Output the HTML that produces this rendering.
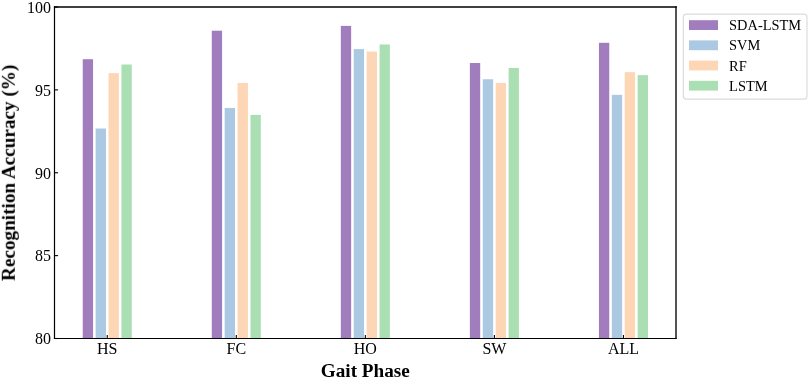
<!DOCTYPE html>
<html><head><meta charset="utf-8"><style>
html,body{margin:0;padding:0;background:#fff;}
body{width:809px;height:379px;overflow:hidden;}
svg{display:block;}
text{will-change:transform;}
text{font-family:"Liberation Serif",serif;fill:#000;}
</style></head><body>
<svg width="809" height="379" viewBox="0 0 809 379" xmlns="http://www.w3.org/2000/svg">
<rect x="0" y="0" width="809" height="379" fill="#fff"/>

<rect x="82.73" y="59.21" width="10.32" height="279.29" fill="#A27DBE"/>
<rect x="95.64" y="128.49" width="10.32" height="210.01" fill="#ABC9E2"/>
<rect x="108.54" y="73.13" width="10.32" height="265.37" fill="#FDD6B5"/>
<rect x="121.45" y="64.52" width="10.32" height="273.98" fill="#AADFB3"/>
<rect x="211.78" y="30.70" width="10.32" height="307.80" fill="#A27DBE"/>
<rect x="224.69" y="107.94" width="10.32" height="230.56" fill="#ABC9E2"/>
<rect x="237.59" y="82.91" width="10.32" height="255.59" fill="#FDD6B5"/>
<rect x="250.50" y="114.90" width="10.32" height="223.60" fill="#AADFB3"/>
<rect x="340.83" y="25.90" width="10.32" height="312.60" fill="#A27DBE"/>
<rect x="353.74" y="49.10" width="10.32" height="289.40" fill="#ABC9E2"/>
<rect x="366.64" y="51.59" width="10.32" height="286.91" fill="#FDD6B5"/>
<rect x="379.55" y="44.46" width="10.32" height="294.04" fill="#AADFB3"/>
<rect x="469.88" y="63.02" width="10.32" height="275.48" fill="#A27DBE"/>
<rect x="482.79" y="79.27" width="10.32" height="259.23" fill="#ABC9E2"/>
<rect x="495.69" y="82.91" width="10.32" height="255.59" fill="#FDD6B5"/>
<rect x="508.60" y="68.00" width="10.32" height="270.50" fill="#AADFB3"/>
<rect x="598.93" y="42.80" width="10.32" height="295.70" fill="#A27DBE"/>
<rect x="611.84" y="94.85" width="10.32" height="243.65" fill="#ABC9E2"/>
<rect x="624.74" y="72.14" width="10.32" height="266.36" fill="#FDD6B5"/>
<rect x="637.65" y="75.12" width="10.32" height="263.38" fill="#AADFB3"/>
<line x1="107.25" y1="338.50" x2="107.25" y2="334.90" stroke="#000" stroke-width="1.1"/>
<text x="107.25" y="353.6" font-size="16" text-anchor="middle">HS</text>
<line x1="236.30" y1="338.50" x2="236.30" y2="334.90" stroke="#000" stroke-width="1.1"/>
<text x="236.30" y="353.6" font-size="16" text-anchor="middle">FC</text>
<line x1="365.35" y1="338.50" x2="365.35" y2="334.90" stroke="#000" stroke-width="1.1"/>
<text x="365.35" y="353.6" font-size="16" text-anchor="middle">HO</text>
<line x1="494.40" y1="338.50" x2="494.40" y2="334.90" stroke="#000" stroke-width="1.1"/>
<text x="494.40" y="353.6" font-size="16" text-anchor="middle">SW</text>
<line x1="623.45" y1="338.50" x2="623.45" y2="334.90" stroke="#000" stroke-width="1.1"/>
<text x="623.45" y="353.6" font-size="16" text-anchor="middle">ALL</text>
<line x1="54.50" y1="338.50" x2="58.10" y2="338.50" stroke="#000" stroke-width="1.1"/>
<text x="50.9" y="344.25" font-size="16" text-anchor="end">80</text>
<line x1="54.50" y1="255.62" x2="58.10" y2="255.62" stroke="#000" stroke-width="1.1"/>
<text x="50.9" y="261.38" font-size="16" text-anchor="end">85</text>
<line x1="54.50" y1="172.75" x2="58.10" y2="172.75" stroke="#000" stroke-width="1.1"/>
<text x="50.9" y="178.50" font-size="16" text-anchor="end">90</text>
<line x1="54.50" y1="89.88" x2="58.10" y2="89.88" stroke="#000" stroke-width="1.1"/>
<text x="50.9" y="95.62" font-size="16" text-anchor="end">95</text>
<line x1="54.50" y1="7.00" x2="58.10" y2="7.00" stroke="#000" stroke-width="1.1"/>
<text x="50.9" y="12.75" font-size="16" text-anchor="end">100</text>
<line x1="53.9" y1="338.5" x2="676.675" y2="338.5" stroke="#000" stroke-width="1.2"/>
<line x1="54.5" y1="6.325" x2="54.5" y2="339.1" stroke="#000" stroke-width="1.2"/>
<line x1="53.9" y1="7.0" x2="676.675" y2="7.0" stroke="#000" stroke-width="1.35"/>
<line x1="676.0" y1="6.325" x2="676.0" y2="339.1" stroke="#000" stroke-width="1.35"/>
<text x="365.3" y="377.3" font-size="19.2" font-weight="bold" text-anchor="middle">Gait Phase</text>
<text transform="translate(14.8,172.8) rotate(-90)" font-size="19.2" font-weight="bold" text-anchor="middle">Recognition Accuracy (%)</text>
<rect x="683.3" y="14.1" width="123.7" height="85.0" rx="3" ry="3" fill="#fff" stroke="#dcdcdc" stroke-width="1.2"/>
<rect x="689" y="20.20" width="29" height="9.8" fill="#A27DBE"/>
<text x="729.1" y="30.20" font-size="14.4">SDA-LSTM</text>
<rect x="689" y="40.40" width="29" height="9.8" fill="#ABC9E2"/>
<text x="729.1" y="50.47" font-size="14.4">SVM</text>
<rect x="689" y="60.60" width="29" height="9.8" fill="#FDD6B5"/>
<text x="729.1" y="70.74" font-size="14.4">RF</text>
<rect x="689" y="80.80" width="29" height="9.8" fill="#AADFB3"/>
<text x="729.1" y="91.01" font-size="14.4">LSTM</text>
</svg></body></html>
